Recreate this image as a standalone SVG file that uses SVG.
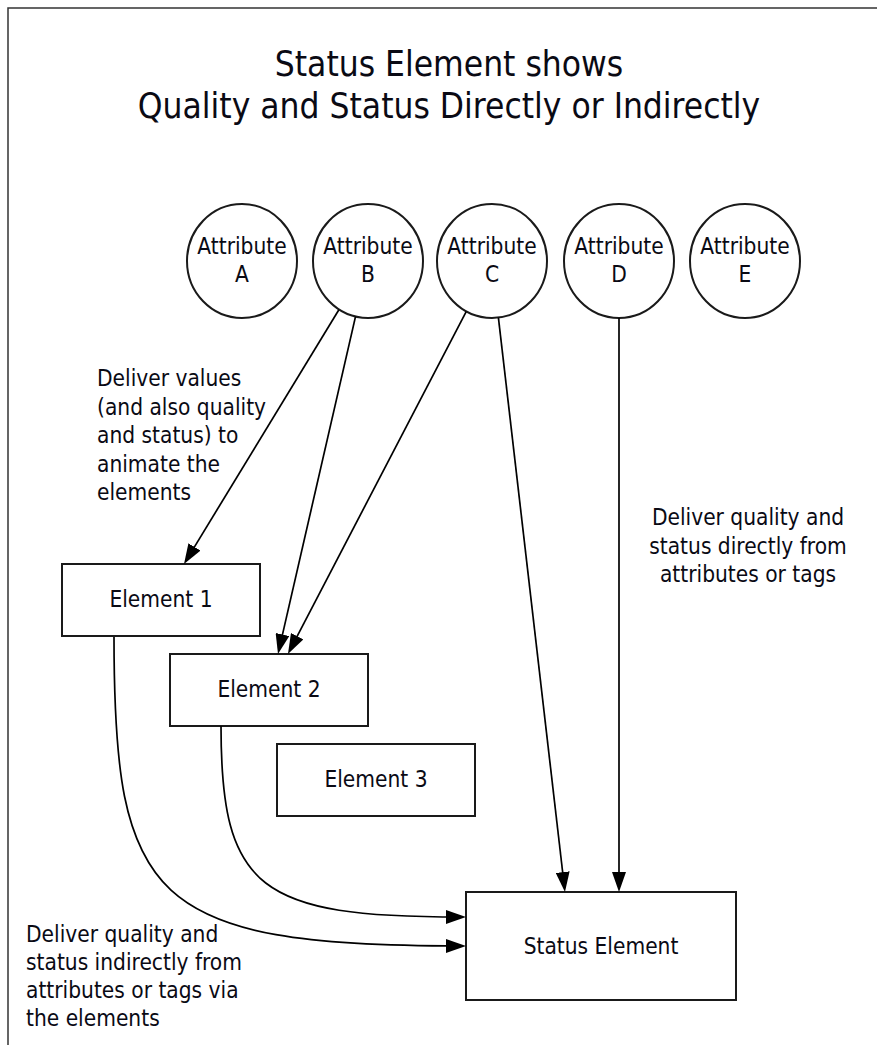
<svg xmlns="http://www.w3.org/2000/svg" width="877" height="1045" viewBox="0 0 877 1045">
<style>
text{font-family:"DejaVu Sans Condensed","DejaVu Sans",sans-serif;font-stretch:condensed;fill:#0a0a14;font-size:22.5px}
.title{font-size:35px;text-anchor:middle}
.c{text-anchor:middle}
.node{fill:#fff;stroke:#1a1a1a;stroke-width:2}
.conn{fill:none;stroke:#000;stroke-width:1.7}
</style>
<defs>
<marker id="arr" markerUnits="userSpaceOnUse" viewBox="0 0 20 14" refX="16" refY="7" markerWidth="20" markerHeight="14" orient="auto">
<path d="M0,0 L20,7 L0,14 z" fill="#000"/>
</marker>
</defs>
<rect x="8" y="8" width="1000" height="1100" fill="#fff" stroke="#333" stroke-width="1.5"/>
<g id="title">
<text class="title" x="449" y="76">Status Element shows</text>
<text class="title" x="449" y="118">Quality and Status Directly or Indirectly</text>
</g>
<g id="attrA"><ellipse class="node" cx="242" cy="261" rx="55" ry="57"/><text class="c" x="242" y="254">Attribute</text><text class="c" x="242" y="282">A</text></g>
<g id="attrB"><ellipse class="node" cx="368" cy="261" rx="55" ry="57"/><text class="c" x="368" y="254">Attribute</text><text class="c" x="368" y="282">B</text></g>
<g id="attrC"><ellipse class="node" cx="492" cy="261" rx="55" ry="57"/><text class="c" x="492" y="254">Attribute</text><text class="c" x="492" y="282">C</text></g>
<g id="attrD"><ellipse class="node" cx="619" cy="261" rx="55" ry="57"/><text class="c" x="619" y="254">Attribute</text><text class="c" x="619" y="282">D</text></g>
<g id="attrE"><ellipse class="node" cx="745" cy="261" rx="55" ry="57"/><text class="c" x="745" y="254">Attribute</text><text class="c" x="745" y="282">E</text></g>
<g id="element1"><rect class="node" x="62" y="564" width="198" height="72"/><text class="c" x="161" y="607">Element 1</text></g>
<g id="element2"><rect class="node" x="170" y="654" width="198" height="72"/><text class="c" x="269" y="697">Element 2</text></g>
<g id="element3"><rect class="node" x="277" y="744" width="198" height="72"/><text class="c" x="376" y="787">Element 3</text></g>
<g id="statusElement"><rect class="node" x="466" y="892" width="270" height="108"/><text class="c" x="601" y="954">Status Element</text></g>
<g id="connectors">
<path class="conn" marker-end="url(#arr)" d="M338.9,309.7 L186.1,560.6"/>
<path class="conn" marker-end="url(#arr)" d="M355.5,316.6 L278.9,650.1"/>
<path class="conn" marker-end="url(#arr)" d="M466.2,311.6 L289.8,650.4"/>
<path class="conn" marker-end="url(#arr)" d="M498.4,317.6 L564.5,888"/>
<path class="conn" marker-end="url(#arr)" d="M619,318 L619,888"/>
<path class="conn" marker-end="url(#arr)" d="M114,637 C114,900 150,946 462,946"/>
<path class="conn" marker-end="url(#arr)" d="M221,726 C221,890 260,917 462,917"/>
</g>
<g id="labels">
<text x="97" y="386">Deliver values</text>
<text x="97" y="414.5">(and also quality</text>
<text x="97" y="443">and status) to</text>
<text x="97" y="471.5">animate the</text>
<text x="97" y="500">elements</text>
<text class="c" x="748" y="525">Deliver quality and</text>
<text class="c" x="748" y="553.5">status directly from</text>
<text class="c" x="748" y="582">attributes or tags</text>
<text x="26" y="942">Deliver quality and</text>
<text x="26" y="970">status indirectly from</text>
<text x="26" y="998">attributes or tags via</text>
<text x="26" y="1026">the elements</text>
</g>
</svg>
